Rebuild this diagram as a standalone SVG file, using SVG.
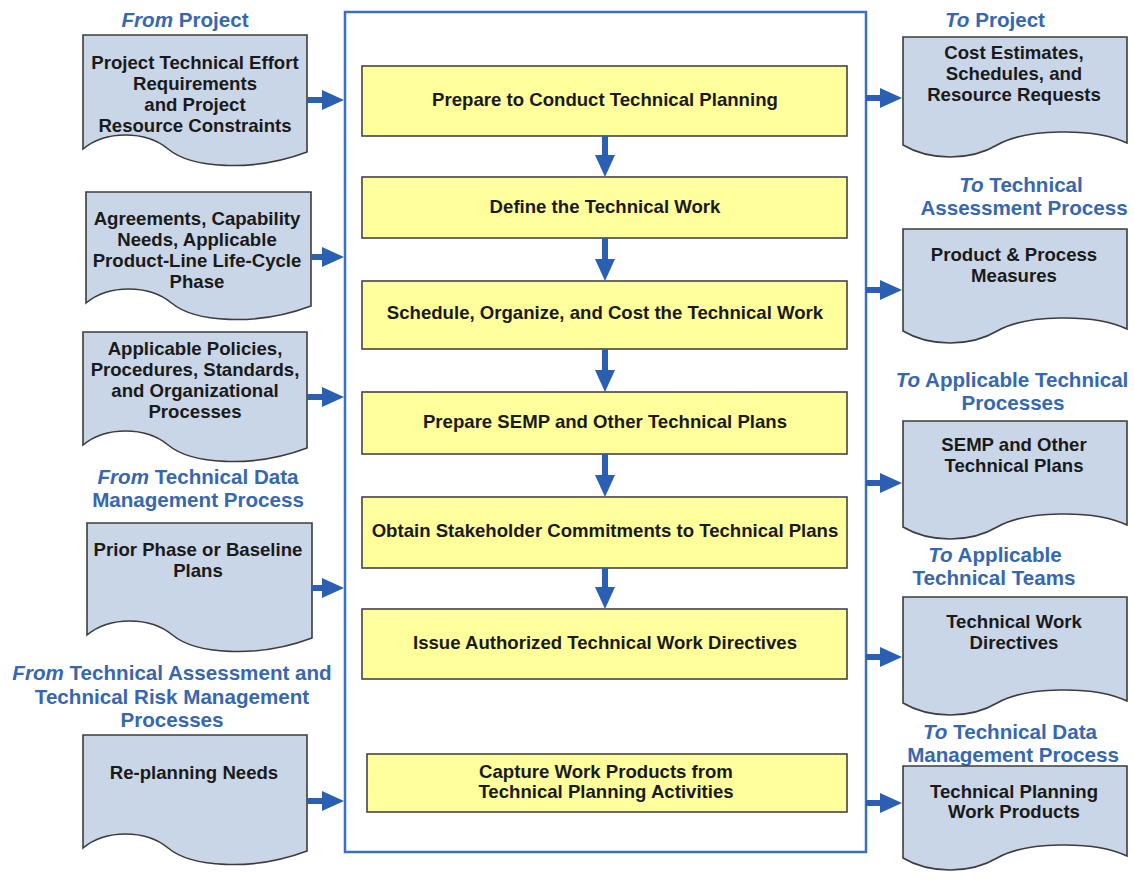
<svg xmlns="http://www.w3.org/2000/svg" width="1134" height="886" viewBox="0 0 1134 886">
<defs>
<style>
.doc{fill:#c9d6e7;stroke:#3c3c3c;stroke-width:1.6}
.box{fill:#ffff9c;stroke:#444;stroke-width:1.6}
.frame{fill:#fff;stroke:#3a70bf;stroke-width:2.5}
.t{font-family:"Liberation Sans",Arial,sans-serif;font-weight:bold;font-size:18.6px;fill:#1a1a1a;text-anchor:middle}
.lb{font-family:"Liberation Sans",Arial,sans-serif;font-weight:bold;font-size:20.6px;fill:#3767b1;text-anchor:middle}
.it{font-style:italic}
.ar{stroke:#2a5fb1;stroke-width:6;fill:none;marker-end:url(#ah)}
</style>
<marker id="ah" markerUnits="userSpaceOnUse" markerWidth="22" markerHeight="20" refX="1" refY="10" orient="auto">
<path d="M0,0 L22,10 L0,20 Z" fill="#2a5fb1"/>
</marker>
</defs>
<rect width="1134" height="886" fill="#fff"/>

<g id="frame"><rect class="frame" x="345" y="12" width="521" height="840"/></g>

<g id="labels">
<text class="lb" x="185" y="27"><tspan class="it">From</tspan> Project</text>
<text class="lb" x="198" y="484"><tspan class="it">From</tspan> Technical Data</text>
<text class="lb" x="198" y="507">Management Process</text>
<text class="lb" x="172" y="680"><tspan class="it">From</tspan> Technical Assessment and</text>
<text class="lb" x="172" y="704">Technical Risk Management</text>
<text class="lb" x="172" y="727">Processes</text>
<text class="lb" x="995" y="27"><tspan class="it">To</tspan> Project</text>
<text class="lb" x="1021" y="192"><tspan class="it">To</tspan> Technical</text>
<text class="lb" x="1024" y="215">Assessment Process</text>
<text class="lb" x="1012" y="387"><tspan class="it">To</tspan> Applicable Technical</text>
<text class="lb" x="1013" y="410">Processes</text>
<text class="lb" x="995" y="562"><tspan class="it">To</tspan> Applicable</text>
<text class="lb" x="994" y="585">Technical Teams</text>
<text class="lb" x="1010" y="739"><tspan class="it">To</tspan> Technical Data</text>
<text class="lb" x="1013" y="762">Management Process</text>
</g>

<g id="in1">
<path class="doc" d="M83,35 H307 V152 C251,173 190.5,167.7 168.1,149 C145.7,130.3 105.4,130.3 83,149 Z"/>
<text class="t" x="195" y="69">Project Technical Effort</text>
<text class="t" x="195" y="90">Requirements</text>
<text class="t" x="195" y="111">and Project</text>
<text class="t" x="195" y="132">Resource Constraints</text>
</g>
<g id="in2">
<path class="doc" d="M86,192 H311 V306 C254.8,327 194,321.7 171.5,303 C149,284.3 108.5,284.3 86,303 Z"/>
<text class="t" x="197" y="225">Agreements, Capability</text>
<text class="t" x="197" y="246">Needs, Applicable</text>
<text class="t" x="197" y="267">Product-Line Life-Cycle</text>
<text class="t" x="197" y="288">Phase</text>
</g>
<g id="in3">
<path class="doc" d="M83,332 H307 V448 C251,469 190.5,463.7 168.1,445 C145.7,426.3 105.4,426.3 83,445 Z"/>
<text class="t" x="195" y="355">Applicable Policies,</text>
<text class="t" x="195" y="376">Procedures, Standards,</text>
<text class="t" x="195" y="397">and Organizational</text>
<text class="t" x="195" y="418">Processes</text>
</g>
<g id="in4">
<path class="doc" d="M87,523 H312 V638 C255.8,659 195,653.7 172.5,635 C150,616.3 109.5,616.3 87,635 Z"/>
<text class="t" x="198" y="556">Prior Phase or Baseline</text>
<text class="t" x="198" y="577">Plans</text>
</g>
<g id="in5">
<path class="doc" d="M83,735 H307 V851 C251,872 190.5,866.7 168.1,848 C145.7,829.3 105.4,829.3 83,848 Z"/>
<text class="t" x="194" y="779">Re-planning Needs</text>
</g>

<g id="step1"><rect class="box" x="362" y="66" width="485" height="70"/>
<text class="t" x="605" y="106">Prepare to Conduct Technical Planning</text></g>
<g id="step2"><rect class="box" x="362" y="177" width="485" height="61"/>
<text class="t" x="605" y="213">Define the Technical Work</text></g>
<g id="step3"><rect class="box" x="362" y="281" width="485" height="68"/>
<text class="t" x="605" y="319">Schedule, Organize, and Cost the Technical Work</text></g>
<g id="step4"><rect class="box" x="362" y="392" width="485" height="62"/>
<text class="t" x="605" y="428">Prepare SEMP and Other Technical Plans</text></g>
<g id="step5"><rect class="box" x="362" y="497" width="485" height="71"/>
<text class="t" x="605" y="537">Obtain Stakeholder Commitments to Technical Plans</text></g>
<g id="step6"><rect class="box" x="362" y="609" width="485" height="70"/>
<text class="t" x="605" y="649">Issue Authorized Technical Work Directives</text></g>
<g id="step7"><rect class="box" x="367" y="754" width="480" height="58"/>
<text class="t" x="606" y="778">Capture Work Products from</text>
<text class="t" x="606" y="798">Technical Planning Activities</text></g>

<g id="out1">
<path class="doc" d="M903,37 H1127 V143 C1093.4,127 1024,129 997.1,145 C970.2,161 929.9,161 903,145 Z"/>
<text class="t" x="1014" y="59">Cost Estimates,</text>
<text class="t" x="1014" y="80">Schedules, and</text>
<text class="t" x="1014" y="101">Resource Requests</text>
</g>
<g id="out2">
<path class="doc" d="M903,229 H1127 V329 C1093.4,313 1024,315 997.1,331 C970.2,347 929.9,347 903,331 Z"/>
<text class="t" x="1014" y="261">Product &amp; Process</text>
<text class="t" x="1014" y="282">Measures</text>
</g>
<g id="out3">
<path class="doc" d="M903,421 H1127 V525 C1093.4,509 1024,511 997.1,527 C970.2,543 929.9,543 903,527 Z"/>
<text class="t" x="1014" y="451">SEMP and Other</text>
<text class="t" x="1014" y="472">Technical Plans</text>
</g>
<g id="out4">
<path class="doc" d="M903,597 H1127 V701 C1093.4,685 1024,687 997.1,703 C970.2,719 929.9,719 903,703 Z"/>
<text class="t" x="1014" y="628">Technical Work</text>
<text class="t" x="1014" y="649">Directives</text>
</g>
<g id="out5">
<path class="doc" d="M903,766 H1127 V856 C1093.4,840 1024,842 997.1,858 C970.2,874 929.9,874 903,858 Z"/>
<text class="t" x="1014" y="798">Technical Planning</text>
<text class="t" x="1014" y="818">Work Products</text>
</g>

<g id="connectors">
<line class="ar" x1="307" y1="100" x2="323" y2="100"/>
<line class="ar" x1="311" y1="257" x2="323" y2="257"/>
<line class="ar" x1="307" y1="397" x2="323" y2="397"/>
<line class="ar" x1="312" y1="588" x2="323" y2="588"/>
<line class="ar" x1="307" y1="801" x2="323" y2="801"/>
<line class="ar" x1="866" y1="98" x2="881" y2="98"/>
<line class="ar" x1="866" y1="290" x2="881" y2="290"/>
<line class="ar" x1="866" y1="483" x2="881" y2="483"/>
<line class="ar" x1="866" y1="657" x2="881" y2="657"/>
<line class="ar" x1="866" y1="803" x2="881" y2="803"/>
<line class="ar" x1="605" y1="136" x2="605" y2="156"/>
<line class="ar" x1="605" y1="238" x2="605" y2="260"/>
<line class="ar" x1="605" y1="349" x2="605" y2="371"/>
<line class="ar" x1="605" y1="454" x2="605" y2="476"/>
<line class="ar" x1="605" y1="568" x2="605" y2="588"/>
</g>
</svg>
